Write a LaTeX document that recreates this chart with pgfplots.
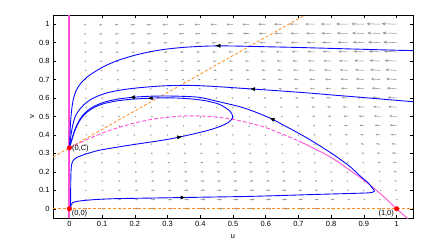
\documentclass[border=0pt]{standalone}
\usepackage{fontspec}
\setmainfont{Liberation Sans}
\usepackage{pgfplots}
\usepackage{pgfplotstable}
\pgfplotsset{compat=1.18}
\usetikzlibrary{arrows.meta}
\definecolor{qgray}{RGB}{150,150,150}
\definecolor{nullpink}{RGB}{255,80,215}
\definecolor{nullorange}{RGB}{255,140,30}
\definecolor{trajblue}{RGB}{10,10,255}

% quiver field: grid point (x,y) and arrow components du, dv (units of 1e-4)
\pgfplotstableread[row sep=\\]{
x y du dv\\
0.05 0 35 0\\ 0.1 0 66 0\\ 0.15 0 94 0\\ 0.2 0 117 0\\ 0.25 0 138 0\\ 0.3 0 154 0\\ 0.35 0 167 0\\ 0.4 0 176 0\\ 0.45 0 182 0\\ 0.5 0 184 0\\ 0.55 0 182 0\\ 0.6 0 176 0\\ 0.65 0 167 0\\ 0.7 0 154 0\\ 0.75 0 138 0\\ 0.8 0 117 0\\ 0.85 0 94 0\\ 0.9 0 66 0\\ 0.95 0 35 0\\
0.05 0.05 30 1\\ 0.1 0.05 58 2\\ 0.15 0.05 83 2\\ 0.2 0.05 105 2\\ 0.25 0.05 123 2\\ 0.3 0.05 139 3\\ 0.35 0.05 150 3\\ 0.4 0.05 159 3\\ 0.45 0.05 163 3\\ 0.5 0.05 164 3\\ 0.55 0.05 162 4\\ 0.6 0.05 156 4\\ 0.65 0.05 146 4\\ 0.7 0.05 133 4\\ 0.75 0.05 116 5\\ 0.8 0.05 96 5\\ 0.85 0.05 71 5\\ 0.9 0.05 44 5\\ 0.95 0.05 12 5\\ 1 0.05 -23 6\\
0.05 0.1 26 2\\ 0.1 0.1 50 3\\ 0.15 0.1 72 3\\ 0.2 0.1 92 4\\ 0.25 0.1 109 4\\ 0.3 0.1 123 5\\ 0.35 0.1 134 5\\ 0.4 0.1 141 6\\ 0.45 0.1 145 6\\ 0.5 0.1 145 6\\ 0.55 0.1 142 7\\ 0.6 0.1 136 7\\ 0.65 0.1 126 8\\ 0.7 0.1 112 8\\ 0.75 0.1 95 9\\ 0.8 0.1 74 9\\ 0.85 0.1 49 10\\ 0.9 0.1 21 10\\ 0.95 0.1 -11 10\\ 1 0.1 -46 11\\
0.05 0.15 21 3\\ 0.1 0.15 42 4\\ 0.15 0.15 62 4\\ 0.2 0.15 80 5\\ 0.25 0.15 95 6\\ 0.3 0.15 108 6\\ 0.35 0.15 117 7\\ 0.4 0.15 124 8\\ 0.45 0.15 127 8\\ 0.5 0.15 126 9\\ 0.55 0.15 123 10\\ 0.6 0.15 115 10\\ 0.65 0.15 105 11\\ 0.7 0.15 91 12\\ 0.75 0.15 73 12\\ 0.8 0.15 52 13\\ 0.85 0.15 27 14\\ 0.9 0.15 -1 14\\ 0.95 0.15 -33 15\\ 1 0.15 -69 16\\
0.05 0.2 16 3\\ 0.1 0.2 34 4\\ 0.15 0.2 51 5\\ 0.2 0.2 67 6\\ 0.25 0.2 81 7\\ 0.3 0.2 92 8\\ 0.35 0.2 100 8\\ 0.4 0.2 106 9\\ 0.45 0.2 108 10\\ 0.5 0.2 107 11\\ 0.55 0.2 103 12\\ 0.6 0.2 95 13\\ 0.65 0.2 84 14\\ 0.7 0.2 70 15\\ 0.75 0.2 51 15\\ 0.8 0.2 30 16\\ 0.85 0.2 5 17\\ 0.9 0.2 -24 18\\ 0.95 0.2 -56 19\\ 1 0.2 -92 20\\
0.05 0.25 12 3\\ 0.1 0.25 26 4\\ 0.15 0.25 41 5\\ 0.2 0.25 54 6\\ 0.25 0.25 67 7\\ 0.3 0.25 76 8\\ 0.35 0.25 84 9\\ 0.4 0.25 88 11\\ 0.45 0.25 90 12\\ 0.5 0.25 88 13\\ 0.55 0.25 83 14\\ 0.6 0.25 75 15\\ 0.65 0.25 63 16\\ 0.7 0.25 48 17\\ 0.75 0.25 30 18\\ 0.8 0.25 8 19\\ 0.85 0.25 -18 20\\ 0.9 0.25 -46 22\\ 0.95 0.25 -79 23\\ 1 0.25 -115 24\\
0.05 0.3 7 2\\ 0.1 0.3 18 3\\ 0.15 0.3 30 5\\ 0.2 0.3 42 6\\ 0.25 0.3 52 7\\ 0.3 0.3 61 9\\ 0.35 0.3 67 10\\ 0.4 0.3 71 11\\ 0.45 0.3 71 13\\ 0.5 0.3 69 14\\ 0.55 0.3 64 15\\ 0.6 0.3 55 17\\ 0.65 0.3 43 18\\ 0.7 0.3 27 19\\ 0.75 0.3 8 21\\ 0.8 0.3 -14 22\\ 0.85 0.3 -40 23\\ 0.9 0.3 -69 25\\ 0.95 0.3 -102 26\\ 1 0.3 -138 27\\
0.05 0.35 2 1\\ 0.1 0.35 10 2\\ 0.15 0.35 19 4\\ 0.2 0.35 29 6\\ 0.25 0.35 38 7\\ 0.3 0.35 45 9\\ 0.35 0.35 51 10\\ 0.4 0.35 53 12\\ 0.45 0.35 53 13\\ 0.5 0.35 50 15\\ 0.55 0.35 44 16\\ 0.6 0.35 35 18\\ 0.65 0.35 22 19\\ 0.7 0.35 6 21\\ 0.75 0.35 -13 22\\ 0.8 0.35 -36 24\\ 0.85 0.35 -62 26\\ 0.9 0.35 -91 27\\ 0.95 0.35 -124 29\\ 1 0.35 -161 30\\
0.05 0.4 -3 -1\\ 0.1 0.4 2 1\\ 0.15 0.4 9 3\\ 0.2 0.4 17 5\\ 0.25 0.4 24 6\\ 0.3 0.4 30 8\\ 0.35 0.4 34 10\\ 0.4 0.4 36 12\\ 0.45 0.4 35 13\\ 0.5 0.4 31 15\\ 0.55 0.4 24 17\\ 0.6 0.4 14 19\\ 0.65 0.4 1 20\\ 0.7 0.4 -15 22\\ 0.75 0.4 -35 24\\ 0.8 0.4 -58 26\\ 0.85 0.4 -84 27\\ 0.9 0.4 -114 29\\ 0.95 0.4 -147 31\\ 1 0.4 -184 33\\
0.05 0.45 -7 -3\\ 0.1 0.45 -6 -1\\ 0.15 0.45 -2 1\\ 0.2 0.45 4 3\\ 0.25 0.45 10 5\\ 0.3 0.45 14 7\\ 0.35 0.45 17 9\\ 0.4 0.45 18 11\\ 0.45 0.45 16 13\\ 0.5 0.45 12 15\\ 0.55 0.45 5 17\\ 0.6 0.45 -6 19\\ 0.65 0.45 -19 21\\ 0.7 0.45 -36 23\\ 0.75 0.45 -56 25\\ 0.8 0.45 -80 27\\ 0.85 0.45 -106 29\\ 0.9 0.45 -136 31\\ 0.95 0.45 -170 33\\ 1 0.45 -207 35\\
0.05 0.5 -12 -5\\ 0.1 0.5 -14 -3\\ 0.15 0.5 -13 -1\\ 0.2 0.5 -9 1\\ 0.25 0.5 -5 4\\ 0.3 0.5 -1 6\\ 0.35 0.5 1 8\\ 0.4 0.5 0 10\\ 0.45 0.5 -2 12\\ 0.5 0.5 -7 15\\ 0.55 0.5 -15 17\\ 0.6 0.5 -26 19\\ 0.65 0.5 -40 21\\ 0.7 0.5 -57 23\\ 0.75 0.5 -78 26\\ 0.8 0.5 -101 28\\ 0.85 0.5 -129 30\\ 0.9 0.5 -159 32\\ 0.95 0.5 -193 34\\ 1 0.5 -230 37\\
0.05 0.55 -17 -8\\ 0.1 0.55 -23 -6\\ 0.15 0.55 -23 -3\\ 0.2 0.55 -21 -1\\ 0.25 0.55 -19 1\\ 0.3 0.55 -17 4\\ 0.35 0.55 -16 6\\ 0.4 0.55 -17 9\\ 0.45 0.55 -20 11\\ 0.5 0.55 -26 14\\ 0.55 0.55 -35 16\\ 0.6 0.55 -46 18\\ 0.65 0.55 -61 21\\ 0.7 0.55 -79 23\\ 0.75 0.55 -99 26\\ 0.8 0.55 -123 28\\ 0.85 0.55 -151 30\\ 0.9 0.55 -181 33\\ 0.95 0.55 -216 35\\ 1 0.55 -253 38\\
0.05 0.6 -21 -12\\ 0.1 0.6 -31 -9\\ 0.15 0.6 -34 -6\\ 0.2 0.6 -34 -4\\ 0.25 0.6 -33 -1\\ 0.3 0.6 -32 2\\ 0.35 0.6 -33 4\\ 0.4 0.6 -35 7\\ 0.45 0.6 -39 10\\ 0.5 0.6 -46 12\\ 0.55 0.6 -55 15\\ 0.6 0.6 -67 17\\ 0.65 0.6 -82 20\\ 0.7 0.6 -100 23\\ 0.75 0.6 -121 25\\ 0.8 0.6 -145 28\\ 0.85 0.6 -173 31\\ 0.9 0.6 -204 33\\ 0.95 0.6 -238 36\\ 1 0.6 -276 39\\
0.05 0.65 -26 -15\\ 0.1 0.65 -39 -13\\ 0.15 0.65 -44 -10\\ 0.2 0.65 -47 -7\\ 0.25 0.65 -47 -4\\ 0.3 0.65 -48 -1\\ 0.35 0.65 -49 2\\ 0.4 0.65 -52 5\\ 0.45 0.65 -57 7\\ 0.5 0.65 -65 10\\ 0.55 0.65 -74 13\\ 0.6 0.65 -87 16\\ 0.65 0.65 -102 19\\ 0.7 0.65 -121 22\\ 0.75 0.65 -142 25\\ 0.8 0.65 -167 27\\ 0.85 0.65 -195 30\\ 0.9 0.65 -226 33\\ 0.95 0.65 -261 36\\ 1 0.65 -299 39\\
0.05 0.7 -31 -20\\ 0.1 0.7 -47 -17\\ 0.15 0.7 -55 -14\\ 0.2 0.7 -59 -10\\ 0.25 0.7 -61 -7\\ 0.3 0.7 -63 -4\\ 0.35 0.7 -66 -1\\ 0.4 0.7 -70 2\\ 0.45 0.7 -76 5\\ 0.5 0.7 -84 8\\ 0.55 0.7 -94 11\\ 0.6 0.7 -107 14\\ 0.65 0.7 -123 17\\ 0.7 0.7 -142 20\\ 0.75 0.7 -164 23\\ 0.8 0.7 -189 26\\ 0.85 0.7 -217 30\\ 0.9 0.7 -249 33\\ 0.95 0.7 -284 36\\ 1 0.7 -322 39\\
0.05 0.75 -35 -24\\ 0.1 0.75 -55 -21\\ 0.15 0.75 -66 -18\\ 0.2 0.75 -72 -15\\ 0.25 0.75 -76 -11\\ 0.3 0.75 -79 -8\\ 0.35 0.75 -83 -5\\ 0.4 0.75 -87 -1\\ 0.45 0.75 -94 2\\ 0.5 0.75 -103 5\\ 0.55 0.75 -114 9\\ 0.6 0.75 -127 12\\ 0.65 0.75 -144 15\\ 0.7 0.75 -163 18\\ 0.75 0.75 -185 22\\ 0.8 0.75 -211 25\\ 0.85 0.75 -240 28\\ 0.9 0.75 -271 32\\ 0.95 0.75 -307 35\\ 1 0.75 -345 38\\
0.05 0.8 -40 -30\\ 0.1 0.8 -63 -26\\ 0.15 0.8 -76 -23\\ 0.2 0.8 -84 -19\\ 0.25 0.8 -90 -15\\ 0.3 0.8 -95 -12\\ 0.35 0.8 -99 -8\\ 0.4 0.8 -105 -5\\ 0.45 0.8 -112 -1\\ 0.5 0.8 -122 2\\ 0.55 0.8 -133 6\\ 0.6 0.8 -148 9\\ 0.65 0.8 -164 13\\ 0.7 0.8 -184 16\\ 0.75 0.8 -207 20\\ 0.8 0.8 -233 23\\ 0.85 0.8 -262 27\\ 0.9 0.8 -294 30\\ 0.95 0.8 -329 34\\ 1 0.8 -368 37\\
0.05 0.85 -45 -35\\ 0.1 0.85 -71 -31\\ 0.15 0.85 -87 -28\\ 0.2 0.85 -97 -24\\ 0.25 0.85 -104 -20\\ 0.3 0.85 -110 -16\\ 0.35 0.85 -116 -13\\ 0.4 0.85 -123 -9\\ 0.45 0.85 -131 -5\\ 0.5 0.85 -141 -2\\ 0.55 0.85 -153 2\\ 0.6 0.85 -168 6\\ 0.65 0.85 -185 10\\ 0.7 0.85 -205 13\\ 0.75 0.85 -229 17\\ 0.8 0.85 -255 21\\ 0.85 0.85 -284 25\\ 0.9 0.85 -316 28\\ 0.95 0.85 -352 32\\ 1 0.85 -391 36\\
0.05 0.9 -49 -41\\ 0.1 0.9 -79 -37\\ 0.15 0.9 -97 -33\\ 0.2 0.9 -110 -29\\ 0.25 0.9 -118 -25\\ 0.3 0.9 -126 -21\\ 0.35 0.9 -133 -17\\ 0.4 0.9 -140 -13\\ 0.45 0.9 -149 -10\\ 0.5 0.9 -160 -6\\ 0.55 0.9 -173 -2\\ 0.6 0.9 -188 2\\ 0.65 0.9 -206 6\\ 0.7 0.9 -227 10\\ 0.75 0.9 -250 14\\ 0.8 0.9 -277 18\\ 0.85 0.9 -306 22\\ 0.9 0.9 -339 26\\ 0.95 0.9 -375 30\\ 1 0.9 -414 34\\
0.05 0.95 -54 -48\\ 0.1 0.95 -87 -43\\ 0.15 0.95 -108 -39\\ 0.2 0.95 -122 -35\\ 0.25 0.95 -133 -31\\ 0.3 0.95 -141 -27\\ 0.35 0.95 -149 -23\\ 0.4 0.95 -158 -18\\ 0.45 0.95 -168 -14\\ 0.5 0.95 -179 -10\\ 0.55 0.95 -192 -6\\ 0.6 0.95 -208 -2\\ 0.65 0.95 -227 3\\ 0.7 0.95 -248 7\\ 0.75 0.95 -272 11\\ 0.8 0.95 -298 15\\ 0.85 0.95 -328 19\\ 0.9 0.95 -361 23\\ 0.95 0.95 -398 28\\ 1 0.95 -437 32\\
0.05 1 -59 -55\\ 0.1 1 -95 -50\\ 0.15 1 -119 -46\\ 0.2 1 -135 -41\\ 0.25 1 -147 -37\\ 0.3 1 -157 -33\\ 0.35 1 -166 -28\\ 0.4 1 -175 -24\\ 0.45 1 -186 -19\\ 0.5 1 -198 -15\\ 0.55 1 -212 -11\\ 0.6 1 -229 -6\\ 0.65 1 -247 -2\\ 0.7 1 -269 3\\ 0.75 1 -293 7\\ 0.8 1 -320 11\\ 0.85 1 -351 16\\ 0.9 1 -384 20\\ 0.95 1 -421 25\\ 1 1 -460 29\\
}\quiverdata

\begin{document}
\begin{tikzpicture}
\useasboundingbox (-53bp,-24bp) rectangle (378bp,218bp);
\begin{axis}[
  at={(0,0)}, anchor=south west,
  scale only axis, width=360bp, height=203bp,
  xmin=-0.05, xmax=1.05, ymin=-0.05, ymax=1.05,
  xtick={0,0.1,0.2,0.3,0.4,0.5,0.6,0.7,0.8,0.9,1},
  ytick={0,0.1,0.2,0.3,0.4,0.5,0.6,0.7,0.8,0.9,1},
  tick align=inside,
  major tick length=3bp,
  axis line style={line width=0.6pt, black},
  tick style={line width=0.5pt, black},
  tick label style={font=\fontsize{7.5}{8}\selectfont},
  /pgf/number format/assume math mode=true,
  xlabel={u}, ylabel={v},
  xlabel style={at={(axis description cs:0.5,-0.089)}, anchor=center, font=\fontsize{7.5}{8}\selectfont},
  ylabel style={at={(axis description cs:-0.058,0.5)}, anchor=center, font=\fontsize{7.5}{8}\selectfont},
]
% vector field
\addplot[qgray, line width=0.55pt,
  point meta={abs(\thisrow{du})},
  quiver={u=\thisrow{du}, v=\thisrow{dv}, scale arrows=0.0001,
    every arrow/.append style={-{Stealth[length=4bp, width=3.3bp, scale={0.4+0.6*\pgfplotspointmetatransformed/1000}]}}},
] table[x=x, y=y] {\quiverdata};

% v-nullclines (orange)
\addplot[nullorange, line width=0.8pt, dash pattern=on 3pt off 2pt] coordinates {(-0.05,0) (1.05,0)};
\addplot[nullorange, line width=0.8pt, dash pattern=on 3pt off 2pt] coordinates {(-0.05,0.28) (0.72,1.05)};

% u-nullcline u = 0 (pink)
\addplot[color=nullpink, line width=2pt] coordinates {(0,-0.05) (0,1.05)};

% u-nullcline hump (pink)
\addplot[draw=nullpink, line width=0.9pt, dash pattern=on 4pt off 2pt, smooth] coordinates {
(0,0.33) (0.05,0.372) (0.1,0.41) (0.15,0.44) (0.2,0.465) (0.25,0.484) (0.3,0.496)
(0.35,0.503) (0.4,0.503) (0.45,0.497) (0.5,0.484) (0.55,0.465) (0.6,0.44) (0.65,0.405) (0.7,0.368)};
\addplot[draw=nullpink, line width=0.9pt, smooth] coordinates {
(0.7,0.368) (0.75,0.325) (0.8,0.278) (0.85,0.218) (0.9,0.155) (0.95,0.082) (1.0,0.0) (1.035,-0.055)};

% trajectories
\addplot[trajblue, line width=0.9pt, smooth, tension=0.5] coordinates {
(1.05,0.857) (1.0,0.859) (0.9,0.864) (0.8,0.869) (0.7,0.874) (0.6,0.878) (0.5,0.882) (0.43,0.882)
(0.36,0.876) (0.3,0.866) (0.25,0.852) (0.2,0.832) (0.15,0.805) (0.11,0.775) (0.08,0.745)
(0.055,0.715) (0.035,0.68) (0.022,0.645) (0.013,0.6) (0.008,0.55) (0.005,0.5) (0.003,0.45)
(0.002,0.4) (0.001,0.36) (0,0.335)};
\addplot[trajblue, line width=0.9pt, smooth, tension=0.5] coordinates {
(1.05,0.58) (0.95,0.595) (0.89,0.604) (0.8,0.617) (0.74,0.626) (0.65,0.638) (0.55,0.65)
(0.45,0.662) (0.38,0.668) (0.3,0.667) (0.226,0.658) (0.17,0.647) (0.124,0.632) (0.09,0.613)
(0.065,0.592) (0.045,0.565) (0.03,0.535) (0.018,0.5) (0.01,0.45) (0.005,0.4) (0.002,0.36) (0,0.335)};
\addplot[trajblue, line width=0.9pt, smooth, tension=0.5] coordinates {
(0.004,0.0) (0.004,0.1) (0.005,0.2) (0.007,0.24) (0.012,0.262) (0.02,0.275) (0.035,0.287)
(0.06,0.302) (0.094,0.318) (0.15,0.335) (0.2,0.349) (0.25,0.362) (0.3,0.376) (0.34,0.39)
(0.39,0.41) (0.43,0.428) (0.462,0.447) (0.485,0.467) (0.498,0.49) (0.497,0.513) (0.487,0.535)
(0.47,0.555) (0.452,0.57) (0.42,0.584) (0.38,0.594) (0.33,0.6) (0.28,0.601) (0.23,0.598)
(0.18,0.592) (0.14,0.583) (0.104,0.569) (0.077,0.55) (0.055,0.525) (0.037,0.492) (0.024,0.453)
(0.014,0.41) (0.007,0.37) (0.002,0.345) (0,0.335)};
\addplot[trajblue, line width=0.9pt, smooth, tension=0.5] coordinates {
(0.004,0.0) (0.005,0.02) (0.01,0.033) (0.02,0.039) (0.04,0.044) (0.08,0.05) (0.145,0.055)
(0.25,0.058) (0.35,0.061) (0.45,0.064) (0.55,0.067) (0.65,0.072) (0.74,0.077) (0.82,0.081)
(0.88,0.084) (0.91,0.086) (0.926,0.089) (0.932,0.096) (0.927,0.11) (0.912,0.142) (0.89,0.175)
(0.86,0.225) (0.83,0.265) (0.8,0.302) (0.75,0.358) (0.707,0.403) (0.66,0.448) (0.615,0.49)
(0.57,0.523) (0.523,0.552) (0.462,0.578) (0.4,0.603) (0.35,0.609) (0.3,0.611) (0.25,0.61)
(0.2,0.605) (0.155,0.596) (0.115,0.582) (0.085,0.563) (0.06,0.538) (0.04,0.505) (0.026,0.465)
(0.015,0.42) (0.008,0.378) (0.003,0.348) (0,0.335)};

% direction arrows on trajectories
\addplot[trajblue, line width=0.5pt, -{Latex[black, length=5bp, width=4bp]}] coordinates {(0.462,0.883) (0.446,0.884)};
\addplot[trajblue, line width=0.5pt, -{Latex[black, length=5bp, width=4bp]}] coordinates {(0.568,0.648) (0.552,0.65)};
\addplot[trajblue, line width=0.5pt, -{Latex[black, length=5bp, width=4bp]}] coordinates {(0.325,0.385) (0.345,0.392)};
\addplot[trajblue, line width=0.5pt, -{Latex[black, length=5bp, width=4bp]}] coordinates {(0.255,0.6) (0.239,0.598)};
\addplot[trajblue, line width=0.5pt, -{Latex[black, length=5bp, width=4bp]}] coordinates {(0.2,0.605) (0.185,0.602)};
\addplot[trajblue, line width=0.5pt, -{Latex[black, length=5bp, width=4bp]}] coordinates {(0.335,0.0605) (0.355,0.0612)};
\addplot[trajblue, line width=0.5pt, -{Latex[black, length=5bp, width=4bp]}] coordinates {(0.628,0.479) (0.612,0.493)};

% equilibria
\addplot[only marks, mark=*, mark size=2.3bp, red, mark options={draw=red, fill=red}] coordinates {(0,0) (0,0.33) (1,0)};

\node[anchor=north west, inner sep=0.6pt, font=\fontsize{7.5}{8}\selectfont] at (axis cs:0.005,-0.003) {(0,0)};
\node[anchor=west, inner sep=0.6pt, font=\fontsize{7.5}{8}\selectfont] at (axis cs:0.006,0.326) {(0,C)};
\node[anchor=north east, inner sep=0.6pt, font=\fontsize{7.5}{8}\selectfont] at (axis cs:0.994,-0.003) {(1,0)};
\end{axis}
\end{tikzpicture}
\end{document}
